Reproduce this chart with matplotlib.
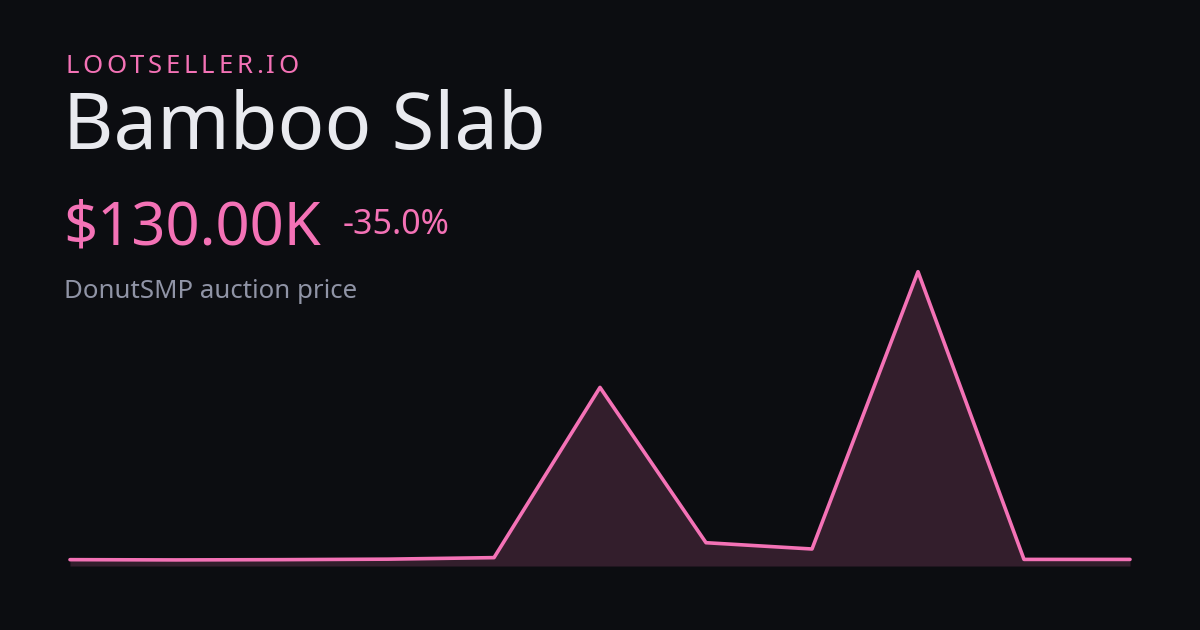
import matplotlib.pyplot as plt

# Données du graphique (prix d'enchère, en $)
points = list(range(11))
prix = [125e3, 120e3, 125e3, 135e3, 165e3, 3.52e6, 459e3, 335e3, 5.8e6, 130e3, 130e3]

marque = "LOOTSELLER.IO"
titre = "Bamboo Slab"
prix_actuel = "$130.00K"
variation = "-35.0%"
sous_titre = "DonutSMP auction price"

fond = '#0c0d11'
rose = '#f472b6'
blanc = '#e9eaef'
gris = '#9094a6'

plt.rcParams['font.family'] = ['Noto Sans', 'DejaVu Sans']

W, H = 1200, 630
fig = plt.figure(figsize=(W / 100, H / 100), dpi=100, facecolor=fond)


def px(x, y):
    return x / W, 1 - y / H


# Zone du graphique
ax = fig.add_axes([70 / W, (H - 566) / H, 1060 / W, (566 - 271.7) / H])
ax.set_facecolor('none')
ax.fill_between(points, prix, 0, color=rose, alpha=0.17, lw=0)
ax.plot(points, prix, color=rose, lw=2.6, solid_capstyle='round', clip_on=False)
ax.set_xlim(0, 10)
ax.set_ylim(0, max(prix))
ax.axis('off')

# Textes
renderer = fig.canvas.get_renderer()

# Marque avec espacement des lettres
taille_marque = 18.5
largeur_cible = 299 - 65
lettres = []
for c in marque:
    t = fig.text(*px(65, 73.3), c, color=rose, fontsize=taille_marque, va='baseline', ha='left')
    lettres.append(t)
naturel = [t.get_window_extent(renderer).width for t in lettres]
esp = (largeur_cible - sum(naturel)) / (len(marque) - 1)
x = 65
for t, w in zip(lettres, naturel):
    t.set_position(px(x, 73.3))
    x += w + esp

fig.text(*px(63, 149), titre, color=blanc, fontsize=55.9, va='baseline', ha='left')
fig.text(*px(63, 244), prix_actuel, color=rose, fontsize=43, va='baseline', ha='left')
fig.text(*px(343, 234), variation, color=rose, fontsize=24.5, va='baseline', ha='left')
fig.text(*px(64, 298.3), sous_titre, color=gris, fontsize=18.6, va='baseline', ha='left')

fig.savefig('out.png', dpi=100, facecolor=fond)
